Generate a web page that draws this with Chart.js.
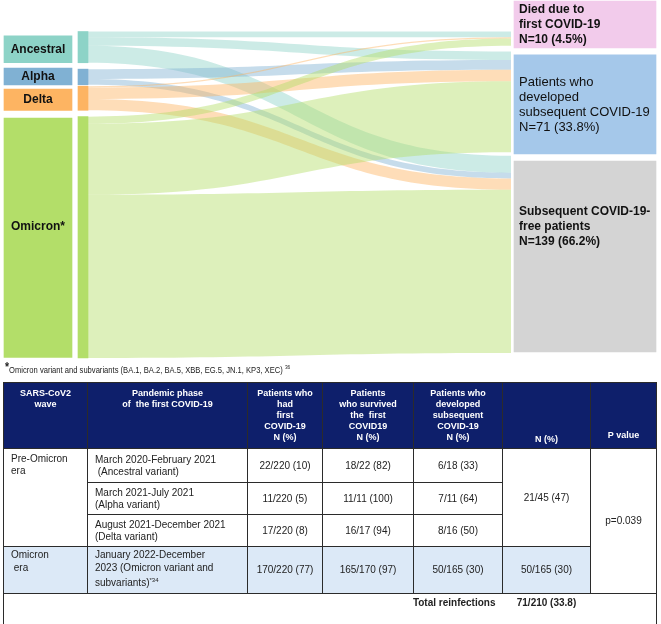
<!DOCTYPE html>
<html>
<head>
<meta charset="utf-8">
<title>First COVID-19 wave and subsequent COVID-19</title>
<script src="https://cdn.jsdelivr.net/npm/chart.js@4.4.1/dist/chart.umd.min.js"></script>
<style>
  body { margin: 0; background: #fff; font-family: "Liberation Sans", Arial, sans-serif; }
  #wrap { position: relative; width: 661px; height: 624px; overflow: hidden; }
  #sankey { position: absolute; left: 0; top: 0; }
  .note { position: absolute; left: 5px; top: 360px; font-size: 9.5px; line-height: 14px; color: #222;
          white-space: nowrap; transform: scaleX(0.8); transform-origin: 0 0; }
  .note b { font-size: 13px; position: relative; top: -2px; }
  .note sup { font-size: 6px; }
  table { position: absolute; left: 3px; top: 382px; width: 653px; border-collapse: collapse; table-layout: fixed;
          font-size: 10px; line-height: 12px; color: #222; border: 1px solid #2b2b2b; }
  th, td { border: 1px solid #2b2b2b; }
  th { background: #0e1f6b; color: #fff; font-size: 9px; font-weight: bold; line-height: 11px;
       vertical-align: top; text-align: center; height: 58px; padding: 5px 2px 0; }
  th.b { vertical-align: bottom; padding: 0 2px 3px; }
  th.pv { vertical-align: bottom; padding: 0 2px 7px; }
  td { text-align: center; vertical-align: middle; padding: 0 4px; }
  td.era { text-align: left; vertical-align: top; padding: 4px 7px 0; }
  td.ph { text-align: left; padding: 0 7px; }
  tr.r1 td { height: 33px; }
  tr.r2 td, tr.r3 td { height: 31px; }
  tr.r4 td { height: 44px; background: #dce9f7; }
  tr.r4 td.era, tr.r4 td.ph { vertical-align: top; padding-top: 2px; line-height: 12.5px; }
  tr.r4 sup { font-size: 6px; }
  tr.tot td { height: 29px; border-left: none; border-right: none; font-weight: bold; vertical-align: top; padding-top: 3px; }
  tr.tot td.lab { text-align: right; padding-right: 7px; }
</style>
</head>
<body>
<div id="wrap">
  <canvas id="sankey" width="661" height="362"></canvas>
  <div class="note"><b>*</b>Omicron variant and subvariants (BA.1, BA.2, BA.5, XBB, EG.5, JN.1, KP3, XEC) <sup>36</sup></div>
  <table>
    <colgroup>
      <col style="width:84px"><col style="width:160px"><col style="width:75px"><col style="width:91px">
      <col style="width:89px"><col style="width:88px"><col style="width:66px">
    </colgroup>
    <tr>
      <th>SARS-CoV2<br>wave</th>
      <th>Pandemic phase<br>of&nbsp; the first COVID-19</th>
      <th>Patients who<br>had<br>first<br>COVID-19<br>N (%)</th>
      <th>Patients<br>who survived<br>the&nbsp; first<br>COVID19<br>N (%)</th>
      <th>Patients who<br>developed<br>subsequent<br>COVID-19<br>N (%)</th>
      <th class="b">N (%)</th>
      <th class="pv">P value</th>
    </tr>
    <tr class="r1">
      <td class="era" rowspan="3">Pre-Omicron<br>era</td>
      <td class="ph">March 2020-February 2021<br>&nbsp;(Ancestral variant)</td>
      <td>22/220 (10)</td>
      <td>18/22 (82)</td>
      <td>6/18 (33)</td>
      <td rowspan="3">21/45 (47)</td>
      <td rowspan="4" style="background:#fff">p=0.039</td>
    </tr>
    <tr class="r2">
      <td class="ph">March 2021-July 2021<br>(Alpha variant)</td>
      <td>11/220 (5)</td>
      <td>11/11 (100)</td>
      <td>7/11 (64)</td>
    </tr>
    <tr class="r3">
      <td class="ph">August 2021-December 2021<br>(Delta variant)</td>
      <td>17/220 (8)</td>
      <td>16/17 (94)</td>
      <td>8/16 (50)</td>
    </tr>
    <tr class="r4">
      <td class="era">Omicron<br>&nbsp;era</td>
      <td class="ph">January 2022-December<br>2023 (Omicron variant and<br>subvariants)<sup>*34</sup></td>
      <td>170/220 (77)</td>
      <td>165/170 (97)</td>
      <td>50/165 (30)</td>
      <td>50/165 (30)</td>
    </tr>
    <tr class="tot">
      <td class="lab" colspan="5">Total reinfections</td>
      <td>71/210 (33.8)</td>
      <td></td>
    </tr>
  </table>
</div>
<script>
// ---- data (patients) ----
const variants = ['Ancestral', 'Alpha', 'Delta', 'Omicron*'];
const firstCovid = [22, 11, 17, 170];
const diedFirst = [4, 0, 1, 5];          // died due to first COVID-19
const reinfected = [6, 7, 8, 50];        // developed subsequent COVID-19
const reinfectionFree = [12, 4, 8, 115]; // subsequent COVID-19-free
const outcomeLines = [
  ['Died due to', 'first COVID-19', 'N=10 (4.5%)'],
  ['Patients who', 'developed', 'subsequent COVID-19', 'N=71 (33.8%)'],
  ['Subsequent COVID-19-', 'free patients', 'N=139 (66.2%)']
];

// ---- layout / style ----
const variantColors = ['#8dd3c7', '#80b1d3', '#fdb462', '#b3de69'];
const linkColors = ['rgba(141,211,199,0.45)', 'rgba(128,177,211,0.45)', 'rgba(253,180,98,0.45)', 'rgba(179,222,105,0.45)'];
const outcomeColors = ['#f2cbeb', '#a5c8ea', '#d4d4d4'];
const outcomeFonts = ['bold 12px "Liberation Sans", Arial', '13px "Liberation Sans", Arial', 'bold 12px "Liberation Sans", Arial'];
const leftGaps = [4.5, 1, 4.5];
const rightGaps = [4, 2.5];
const labelTrim = [[3, 0], [-0.8, 0.1], [2, 0], [1, -0.5]];
const outcomeTrim = [[-21.5, 1.6], [2.5, 1.3], [3.7, -0.8]];
const labelTextPos = [0.5, 0.5, 0.5, 0.455];
const outcomeTextPos = [0.5, 0.5, 0.345];

function stackNodes(sizes, gaps) {
  let y = 0;
  return sizes.map((s, i) => {
    const r = [y, y + s];
    y += s + (gaps[i] || 0);
    return r;
  });
}

const flows = [diedFirst, reinfected, reinfectionFree];
const outcomeTotals = flows.map(f => f.reduce((a, b) => a + b, 0));
const srcNodes = stackNodes(firstCovid, leftGaps);
const dstNodes = stackNodes(outcomeTotals, rightGaps);

// link ranges: source side ordered by outcome, target side ordered by variant
const links = [];
const srcCursor = srcNodes.map(r => r[0]);
const dstCursor = dstNodes.map(r => r[0]);
variants.forEach((v, i) => {
  flows.forEach((f, j) => {
    const w = f[i];
    if (!w) return;
    links.push({ src: i, dst: j, w, s0: srcCursor[i], s1: srcCursor[i] + w, t0: 0, t1: 0 });
    srcCursor[i] += w;
  });
});
flows.forEach((f, j) => {
  variants.forEach((v, i) => {
    const l = links.find(k => k.src === i && k.dst === j);
    if (!l) return;
    l.t0 = dstCursor[j];
    l.t1 = dstCursor[j] + l.w;
    dstCursor[j] += l.w;
  });
});

const sankeyPlugin = {
  id: 'sankeyPlugin',
  beforeDatasetsDraw(chart) {
    const { ctx } = chart;
    const y = chart.scales.y;
    const nodes = chart.getDatasetMeta(1).data;
    const boxes = chart.getDatasetMeta(2).data;
    ctx.save();
    links.forEach(l => {
      const n = nodes[l.src];
      const x0 = n.x + n.width / 2;
      const x1 = boxes[0].x - boxes[0].width / 2 - 3;
      const xm = (x0 + x1) / 2;
      const s0 = y.getPixelForValue(l.s0), s1 = y.getPixelForValue(l.s1);
      const t0 = y.getPixelForValue(l.t0), t1 = y.getPixelForValue(l.t1);
      ctx.beginPath();
      ctx.moveTo(x0, s0);
      ctx.bezierCurveTo(xm, s0, xm, t0, x1, t0);
      ctx.lineTo(x1, t1);
      ctx.bezierCurveTo(xm, t1, xm, s1, x0, s1);
      ctx.closePath();
      ctx.fillStyle = linkColors[l.src];
      ctx.fill();
    });
    ctx.restore();
  },
  afterDatasetsDraw(chart) {
    const { ctx } = chart;
    ctx.save();
    ctx.textBaseline = 'middle';
    ctx.fillStyle = '#111';
    chart.getDatasetMeta(0).data.forEach((el, i) => {
      const top = Math.min(el.y, el.base), bot = Math.max(el.y, el.base);
      ctx.font = 'bold 12px "Liberation Sans", Arial';
      ctx.textAlign = 'center';
      ctx.fillText(variants[i], el.x, top + (bot - top) * labelTextPos[i]);
    });
    chart.getDatasetMeta(2).data.forEach((el, i) => {
      const top = Math.min(el.y, el.base), bot = Math.max(el.y, el.base);
      const lines = outcomeLines[i];
      const lh = 15;
      const cy = top + (bot - top) * outcomeTextPos[i];
      ctx.font = outcomeFonts[i];
      ctx.textAlign = 'left';
      lines.forEach((t, k) => {
        ctx.fillText(t, el.x - el.width / 2 + 5, cy + (k - (lines.length - 1) / 2) * lh);
      });
    });
    ctx.restore();
  }
};

new Chart(document.getElementById('sankey'), {
  type: 'bar',
  data: {
    datasets: [
      {
        label: 'variant labels',
        data: srcNodes.map((r, i) => ({ x: 38, y: [r[0] + labelTrim[i][0], r[1] + labelTrim[i][1]] })),
        backgroundColor: variantColors,
        barThickness: 68
      },
      {
        label: 'variant nodes',
        data: srcNodes.map(r => ({ x: 83, y: r })),
        backgroundColor: variantColors,
        barThickness: 10
      },
      {
        label: 'outcomes',
        data: dstNodes.map((r, i) => ({ x: 585, y: [r[0] + outcomeTrim[i][0], r[1] + outcomeTrim[i][1]] })),
        backgroundColor: outcomeColors,
        barThickness: 142
      }
    ]
  },
  options: {
    responsive: false,
    animation: false,
    layout: { padding: 0 },
    datasets: { bar: { borderWidth: 0, borderSkipped: false, skipNull: true } },
    scales: {
      x: { type: 'linear', min: 0, max: 661, display: false, offset: false },
      y: { type: 'linear', min: -22.2, max: 232.8, reverse: true, stacked: false, display: false }
    },
    plugins: { legend: { display: false }, tooltip: { enabled: false } }
  },
  plugins: [sankeyPlugin]
});
</script>
</body>
</html>
